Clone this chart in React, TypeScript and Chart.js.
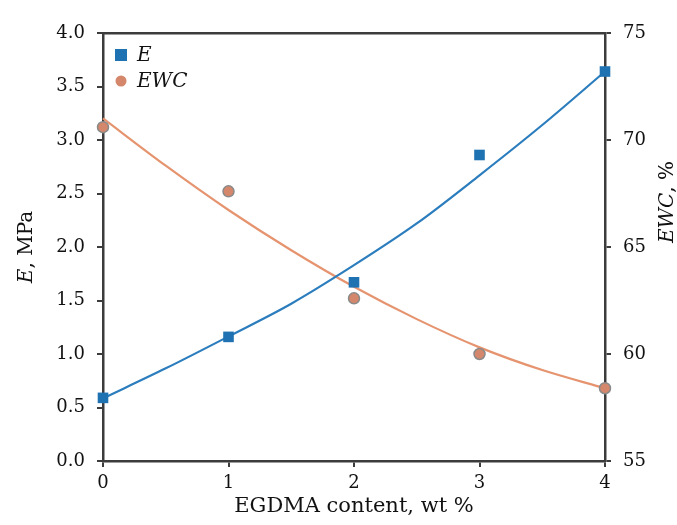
import React, { useEffect, useRef } from 'react';
import { Chart, registerables } from 'chart.js';
Chart.register(...registerables);

const xValues = [0, 1, 2, 3, 4];
const eValues = [0.59, 1.16, 1.67, 2.86, 3.64];
const ewcValues = [70.6, 67.6, 62.6, 60.0, 58.4];
const fitX = [0, 0.5, 1, 1.5, 2, 2.5, 3, 3.5, 4];
const eFit = [0.586, 0.866, 1.164, 1.47, 1.83, 2.22, 2.67, 3.14, 3.64];
const ewcFit = [71.01, 68.8, 66.73, 64.85, 63.14, 61.63, 60.31, 59.25, 58.4];
const seriesLabels = ['E', 'EWC'];
const xTitle = 'EGDMA content, wt %';
const leftTitle = [['E', true], [', MPa', false]] as [string, boolean][];
const rightTitle = [['EWC', true], [', %', false]] as [string, boolean][];

const BLUE = '#1f72b2';
const BLUE_LINE = '#2b7dbd';
const ORANGE = '#d4876a';
const ORANGE_LINE = '#e5946f';
const AXIS = '#3c3c3c';
const FONT = '"DejaVu Serif", serif';

function drawMixed(ctx: CanvasRenderingContext2D, parts: [string, boolean][], x: number, y: number, rot: number, size: number) {
  ctx.save();
  ctx.translate(x, y);
  ctx.rotate(rot);
  ctx.textBaseline = 'alphabetic';
  ctx.textAlign = 'left';
  let total = 0;
  const widths = parts.map(([t, it]) => {
    ctx.font = `${it ? 'italic ' : ''}${size}px ${FONT}`;
    const w = ctx.measureText(t).width;
    total += w;
    return w;
  });
  let cx = -total / 2;
  parts.forEach(([t, it], i) => {
    ctx.font = `${it ? 'italic ' : ''}${size}px ${FONT}`;
    ctx.fillStyle = '#111';
    ctx.fillText(t, cx, 0);
    cx += widths[i];
  });
  ctx.restore();
}

const decor = {
  id: 'decor',
  afterDraw(chart: any) {
    const ctx: CanvasRenderingContext2D = chart.ctx;
    const area = chart.chartArea;
    ctx.save();
    // legend
    const lx = area.left + 18;
    const items = [
      { ds: chart.data.datasets[0], y: area.top + 22, label: seriesLabels[0] },
      { ds: chart.data.datasets[2], y: area.top + 48, label: seriesLabels[1] },
    ];
    items.forEach((it, i) => {
      ctx.fillStyle = it.ds.backgroundColor;
      if (i === 0) {
        ctx.fillRect(lx - 6, it.y - 6, 12, 12);
      } else {
        ctx.beginPath();
        ctx.arc(lx, it.y, 5.5, 0, Math.PI * 2);
        ctx.fill();
      }
      ctx.font = `italic 20px ${FONT}`;
      ctx.fillStyle = '#111';
      ctx.textBaseline = 'alphabetic';
      ctx.textAlign = 'left';
      ctx.fillText(it.label, lx + 16, it.y + 6);
    });
    // titles
    const midY = (area.top + area.bottom) / 2;
    drawMixed(ctx, leftTitle, 32, midY, -Math.PI / 2, 20);
    drawMixed(ctx, rightTitle, 673, midY - 45, -Math.PI / 2, 20);
    drawMixed(ctx, [[xTitle, false]], (area.left + area.right) / 2, 512, 0, 21);
    ctx.restore();
  },
};

export default function App() {
  const ref = useRef<HTMLCanvasElement>(null);
  useEffect(() => {
    document.body.style.margin = '0';
    const tickFont = { family: FONT, size: 18 };
    const chart = new Chart(ref.current!, {
      type: 'scatter',
      data: {
        datasets: [
          {
            label: seriesLabels[0],
            data: xValues.map((x, i) => ({ x, y: eValues[i] })),
            backgroundColor: BLUE,
            borderColor: BLUE,
            pointStyle: 'rect',
            pointRadius: 7.5,
            pointBorderWidth: 0,
            showLine: false,
            yAxisID: 'y',
            clip: false,
            order: 0,
          },
          {
            label: 'E fit',
            data: fitX.map((x, i) => ({ x, y: eFit[i] })),
            borderColor: BLUE_LINE,
            borderWidth: 2.2,
            pointRadius: 0,
            showLine: true,
            cubicInterpolationMode: 'monotone',
            yAxisID: 'y',
            clip: false,
            order: 2,
          },
          {
            label: seriesLabels[1],
            data: xValues.map((x, i) => ({ x, y: ewcValues[i] })),
            backgroundColor: ORANGE,
            borderColor: '#8a8a8a',
            pointStyle: 'circle',
            pointRadius: 5.5,
            pointBorderWidth: 1.5,
            showLine: false,
            yAxisID: 'y1',
            clip: false,
            order: 1,
          },
          {
            label: 'EWC fit',
            data: fitX.map((x, i) => ({ x, y: ewcFit[i] })),
            borderColor: ORANGE_LINE,
            borderWidth: 2.2,
            pointRadius: 0,
            showLine: true,
            cubicInterpolationMode: 'monotone',
            yAxisID: 'y1',
            clip: false,
            order: 3,
          },
        ] as any,
      },
      options: {
        animation: false,
        responsive: false,
        layout: { padding: 0 },
        plugins: { legend: { display: false }, tooltip: { enabled: false } },
        scales: {
          x: {
            type: 'linear',
            position: 'bottom',
            min: 0,
            max: 4,
            ticks: { stepSize: 1, font: tickFont, color: '#111', padding: 6 },
            grid: { drawOnChartArea: false, drawTicks: true, tickLength: 6, color: AXIS, lineWidth: 2 },
            border: { color: AXIS, width: 2.5 },
            afterFit: (s: any) => { s.height = 64; },
          },
          xTop: {
            type: 'linear',
            position: 'top',
            min: 0,
            max: 4,
            ticks: { display: false },
            grid: { drawOnChartArea: false, drawTicks: false },
            border: { color: AXIS, width: 2.5 },
            afterFit: (s: any) => { s.height = 33; },
          },
          y: {
            type: 'linear',
            position: 'left',
            min: 0,
            max: 4,
            ticks: { stepSize: 0.5, font: tickFont, color: '#111', padding: 12, callback: (v: any) => Number(v).toFixed(1) },
            grid: { drawOnChartArea: false, drawTicks: true, tickLength: 6, color: AXIS, lineWidth: 2 },
            border: { color: AXIS, width: 2.5 },
            afterFit: (s: any) => { s.width = 103; },
          },
          y1: {
            type: 'linear',
            position: 'right',
            min: 55,
            max: 75,
            ticks: { stepSize: 5, font: tickFont, color: '#111', padding: 12 },
            grid: { drawOnChartArea: false, drawTicks: true, tickLength: 6, color: AXIS, lineWidth: 2 },
            border: { color: AXIS, width: 2.5 },
            afterFit: (s: any) => { s.width = 72; },
          },
        },
      } as any,
      plugins: [decor],
    });
    return () => chart.destroy();
  }, []);
  return (
    <div style={{ width: 677, height: 525 }}>
      <canvas ref={ref} width={677} height={525} />
    </div>
  );
}
